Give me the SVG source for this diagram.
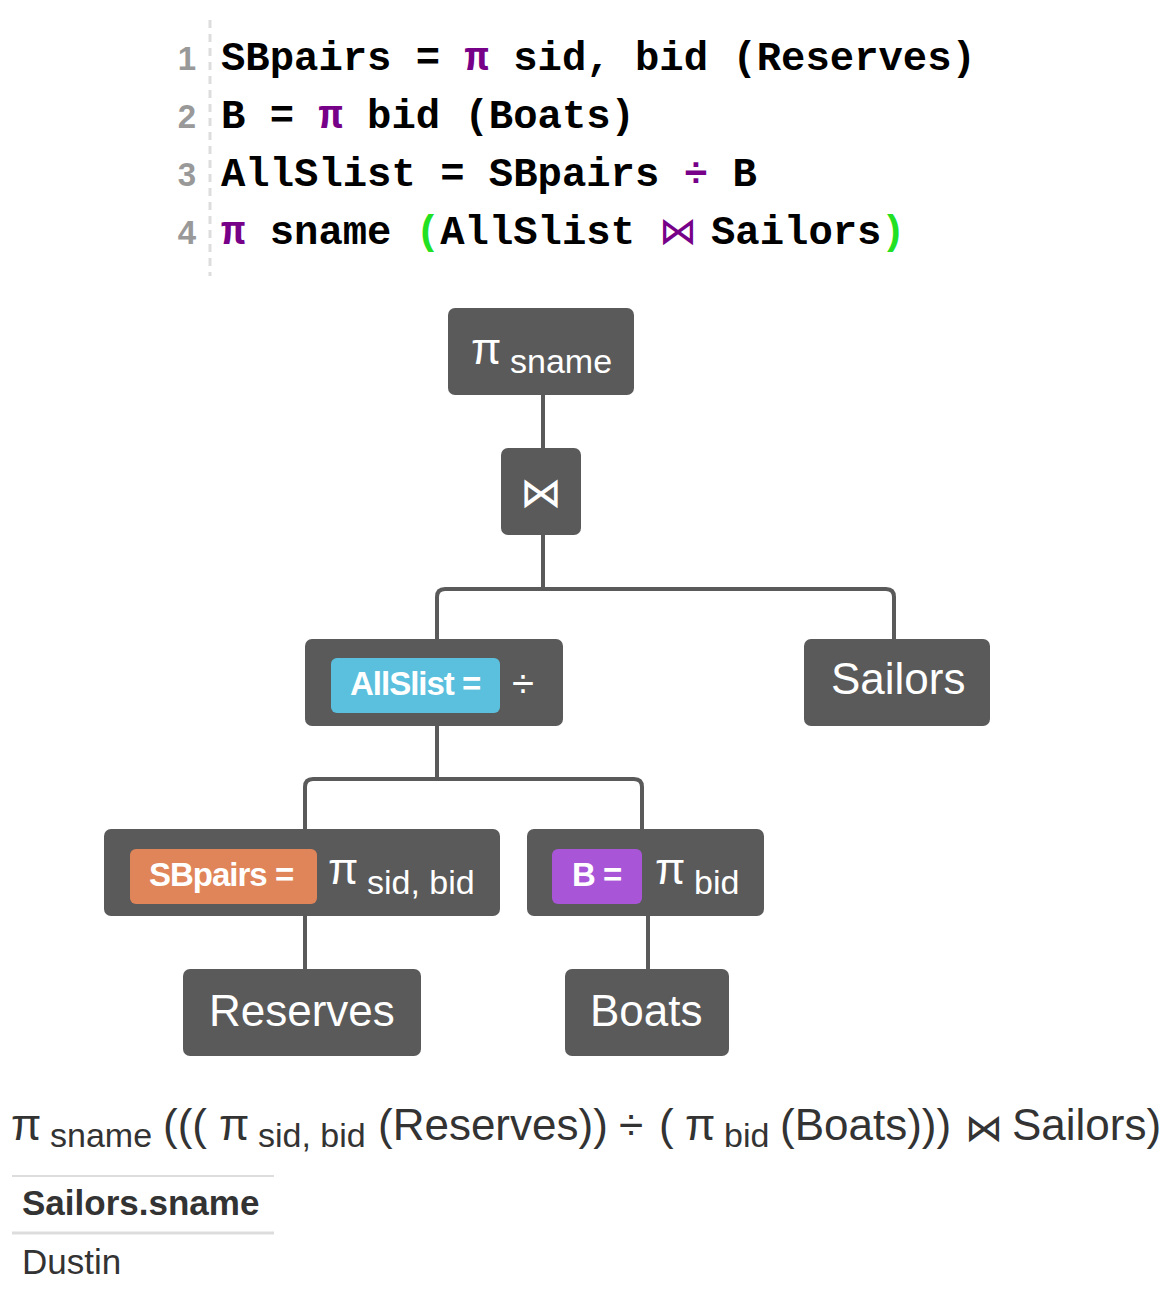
<svg xmlns="http://www.w3.org/2000/svg" width="1172" height="1290" viewBox="0 0 1172 1290">
<style>
.code{font-family:"Liberation Mono","DejaVu Sans Mono",monospace;font-size:40.6px;font-weight:bold;fill:#000}
.ln{font-family:"Liberation Sans",Arial,sans-serif;font-size:33px;font-weight:bold;fill:#999;text-anchor:end}
.kw{fill:#770088}
.br{fill:#22e022}
.node{fill:#5a5a5a}
.nt{font-family:"Liberation Sans",Arial,sans-serif;fill:#fff}
.big{font-size:44px}
.sub{font-size:34px}
.badge{font-size:33px;font-weight:bold;letter-spacing:-1px}
.conn{fill:none;stroke:#5a5a5a;stroke-width:4}
.ex{font-family:"Liberation Sans",Arial,sans-serif;fill:#333}
.sym{font-family:"DejaVu Sans",sans-serif}
</style>
<g id="code">
<line x1="210" y1="20" x2="210" y2="276" stroke="#ddd" stroke-width="3" stroke-dasharray="8 6"/>
<text class="ln" x="196" y="70">1</text>
<text class="ln" x="196" y="128">2</text>
<text class="ln" x="196" y="186">3</text>
<text class="ln" x="196" y="244">4</text>
<text class="code" x="221" y="70" xml:space="preserve">SBpairs = <tspan class="kw">π</tspan> sid, bid (Reserves)</text>
<text class="code" x="221" y="128" xml:space="preserve">B = <tspan class="kw">π</tspan> bid (Boats)</text>
<text class="code" x="221" y="186" xml:space="preserve">AllSlist = SBpairs <tspan class="kw">÷</tspan> B</text>
<text class="code" y="244"><tspan class="kw" x="221">π</tspan><tspan x="269.7">sname</tspan><tspan class="br" x="415.8">(</tspan><tspan x="440.2">AllSlist</tspan><tspan class="kw sym" x="659" style="font-weight:normal;font-size:38px">⋈</tspan><tspan x="711">Sailors</tspan><tspan class="br" x="881">)</tspan></text>
</g>
<g id="connectors">
<path class="conn" d="M543 395 V448"/>
<path class="conn" d="M543 535 V589 M437 640 V597 Q437 589 445 589 H886 Q894 589 894 597 V640"/>
<path class="conn" d="M437 726 V779 M305 829 V787 Q305 779 313 779 H634 Q642 779 642 787 V829"/>
<path class="conn" d="M305 916 V969"/>
<path class="conn" d="M648 916 V969"/>
</g>
<g id="n-proj-sname">
<rect class="node" x="448" y="308" width="186" height="87" rx="7"/>
<text class="nt big" x="471" y="364">π</text>
<text class="nt sub" x="510" y="373">sname</text>
</g>
<g id="n-join">
<rect class="node" x="501" y="448" width="80" height="87" rx="7"/>
<text class="nt sym" x="541" y="507" font-size="42" text-anchor="middle">⋈</text>
</g>
<g id="n-allslist">
<rect class="node" x="305" y="639" width="258" height="87" rx="7"/>
<rect x="331" y="658" width="169" height="55" rx="6" fill="#5bc0de"/>
<text class="nt badge" x="350" y="695">AllSlist =</text>
<text class="nt" x="512" y="697" font-size="40">÷</text>
</g>
<g id="n-sailors">
<rect class="node" x="804" y="639" width="186" height="87" rx="7"/>
<text class="nt big" x="831" y="694">Sailors</text>
</g>
<g id="n-sbpairs">
<rect class="node" x="104" y="829" width="396" height="87" rx="7"/>
<rect x="130" y="849" width="187" height="55" rx="6" fill="#e0855a"/>
<text class="nt badge" x="149" y="886">SBpairs =</text>
<text class="nt big" x="328" y="884">π</text>
<text class="nt sub" x="367" y="894">sid, bid</text>
</g>
<g id="n-b">
<rect class="node" x="527" y="829" width="237" height="87" rx="7"/>
<rect x="552" y="849" width="90" height="55" rx="6" fill="#a855d8"/>
<text class="nt badge" x="572" y="886">B =</text>
<text class="nt big" x="655" y="884">π</text>
<text class="nt sub" x="694" y="894">bid</text>
</g>
<g id="n-reserves">
<rect class="node" x="183" y="969" width="238" height="87" rx="7"/>
<text class="nt big" x="209" y="1026">Reserves</text>
</g>
<g id="n-boats">
<rect class="node" x="565" y="969" width="164" height="87" rx="7"/>
<text class="nt big" x="590" y="1026">Boats</text>
</g>
<g id="expression">
<text class="ex big" x="11" y="1140">π</text>
<text class="ex sub" x="50" y="1147">sname</text>
<text class="ex big" x="163" y="1140">(((</text>
<text class="ex big" x="219" y="1140">π</text>
<text class="ex sub" x="258" y="1147">sid, bid</text>
<text class="ex big" x="378" y="1140">(Reserves))</text>
<text class="ex big" x="619" y="1140">÷</text>
<text class="ex big" x="659" y="1140">(</text>
<text class="ex big" x="685" y="1140">π</text>
<text class="ex sub" x="724" y="1147">bid</text>
<text class="ex big" x="780" y="1140">(Boats)))</text>
<text class="ex sym" x="965" y="1141" font-size="38">⋈</text>
<text class="ex big" x="1012" y="1140">Sailors)</text>
</g>
<g id="result-table">
<line x1="12" y1="1176" x2="274" y2="1176" stroke="#ddd" stroke-width="2"/>
<text class="ex" x="22" y="1215" font-size="35" font-weight="bold">Sailors.sname</text>
<line x1="12" y1="1233" x2="274" y2="1233" stroke="#ddd" stroke-width="3"/>
<text class="ex" x="22" y="1274" font-size="35">Dustin</text>
</g>
</svg>
